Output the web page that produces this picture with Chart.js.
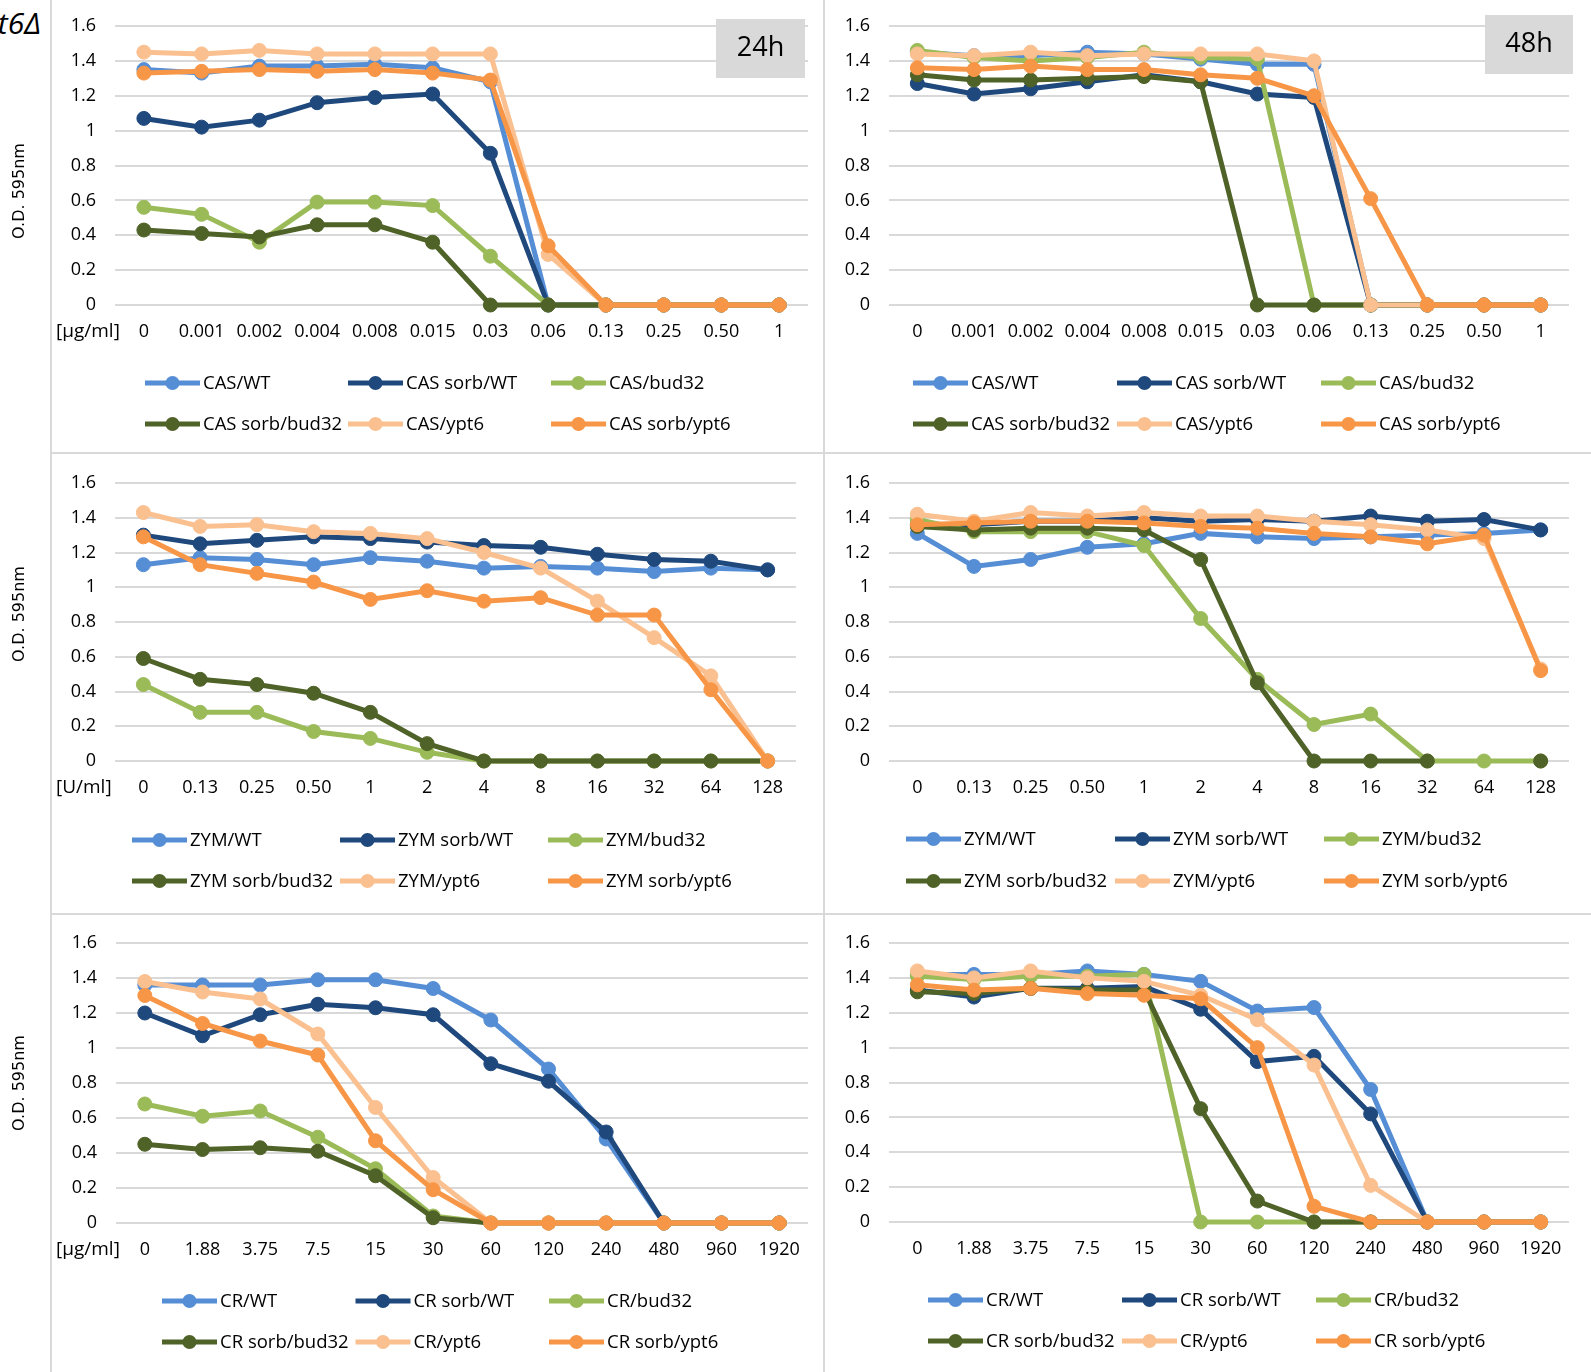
<!DOCTYPE html>
<html>
<head>
<meta charset="utf-8">
<script src="https://cdn.jsdelivr.net/npm/chart.js@4.4.1/dist/chart.umd.min.js"></script>
<style>
  body { margin: 0; background: #fff; width: 1591px; height: 1372px; position: relative; overflow: hidden; }
  canvas { position: absolute; }
  .rule { position: absolute; background: #d9d9d9; }
  .strain { position: absolute; left: -120px; top: 2px; width: 161px; text-align: right;
    font: italic 30px 'Open Sans', sans-serif; color: #000; white-space: nowrap; }
</style>
</head>
<body>
<div class="rule" style="left:50px;top:0;width:2px;height:1372px"></div>
<div class="rule" style="left:823px;top:0;width:2px;height:1372px"></div>
<div class="rule" style="left:51px;top:452px;width:1540px;height:2px"></div>
<div class="rule" style="left:51px;top:913px;width:1540px;height:2px"></div>
<div class="strain">ypt6Δ</div>
<script>
// doses (x categories)
const casDoses = ['0', '0.001', '0.002', '0.004', '0.008', '0.015', '0.03', '0.06', '0.13', '0.25', '0.50', '1'];
const zymDoses = ['0', '0.13', '0.25', '0.50', '1', '2', '4', '8', '16', '32', '64', '128'];
const crDoses = ['0', '1.88', '3.75', '7.5', '15', '30', '60', '120', '240', '480', '960', '1920'];

const strains = ['WT', 'sorb/WT', 'bud32', 'sorb/bud32', 'ypt6', 'sorb/ypt6'];
const yTicks = [0, 0.2, 0.4, 0.6, 0.8, 1, 1.2, 1.4, 1.6];

// CAS 24h
const cas24WT = [1.35, 1.33, 1.37, 1.37, 1.38, 1.36, 1.28, 0, 0, 0, 0, 0];
const cas24SorbWT = [1.07, 1.02, 1.06, 1.16, 1.19, 1.21, 0.87, 0, 0, 0, 0, 0];
const cas24Bud32 = [0.56, 0.52, 0.36, 0.59, 0.59, 0.57, 0.28, 0, 0, 0, 0, 0];
const cas24SorbBud32 = [0.43, 0.41, 0.39, 0.46, 0.46, 0.36, 0, 0, 0, 0, 0, 0];
const cas24Ypt6 = [1.45, 1.44, 1.46, 1.44, 1.44, 1.44, 1.44, 0.29, 0, 0, 0, 0];
const cas24SorbYpt6 = [1.33, 1.34, 1.35, 1.34, 1.35, 1.33, 1.29, 0.34, 0, 0, 0, 0];

// CAS 48h
const cas48WT = [1.45, 1.43, 1.43, 1.45, 1.44, 1.41, 1.38, 1.38, 0, 0, 0, 0];
const cas48SorbWT = [1.27, 1.21, 1.24, 1.28, 1.32, 1.28, 1.21, 1.19, 0, 0, 0, 0];
const cas48Bud32 = [1.46, 1.42, 1.40, 1.42, 1.45, 1.42, 1.41, 0, 0, 0, 0, 0];
const cas48SorbBud32 = [1.32, 1.29, 1.29, 1.30, 1.31, 1.28, 0, 0, 0, 0, 0, 0];
const cas48Ypt6 = [1.44, 1.43, 1.45, 1.43, 1.44, 1.44, 1.44, 1.40, 0, 0, 0, 0];
const cas48SorbYpt6 = [1.36, 1.35, 1.37, 1.35, 1.35, 1.32, 1.30, 1.20, 0.61, 0, 0, 0];

// ZYM 24h
const zym24WT = [1.13, 1.17, 1.16, 1.13, 1.17, 1.15, 1.11, 1.12, 1.11, 1.09, 1.11, 1.10];
const zym24SorbWT = [1.30, 1.25, 1.27, 1.29, 1.28, 1.26, 1.24, 1.23, 1.19, 1.16, 1.15, 1.10];
const zym24Bud32 = [0.44, 0.28, 0.28, 0.17, 0.13, 0.05, 0, 0, 0, 0, 0, 0];
const zym24SorbBud32 = [0.59, 0.47, 0.44, 0.39, 0.28, 0.10, 0, 0, 0, 0, 0, 0];
const zym24Ypt6 = [1.43, 1.35, 1.36, 1.32, 1.31, 1.28, 1.20, 1.11, 0.92, 0.71, 0.49, 0];
const zym24SorbYpt6 = [1.29, 1.13, 1.08, 1.03, 0.93, 0.98, 0.92, 0.94, 0.84, 0.84, 0.41, 0];

// ZYM 48h
const zym48WT = [1.31, 1.12, 1.16, 1.23, 1.25, 1.31, 1.29, 1.28, 1.29, 1.30, 1.31, 1.33];
const zym48SorbWT = [1.36, 1.36, 1.38, 1.38, 1.40, 1.38, 1.39, 1.38, 1.41, 1.38, 1.39, 1.33];
const zym48Bud32 = [1.39, 1.32, 1.32, 1.32, 1.24, 0.82, 0.47, 0.21, 0.27, 0, 0, 0];
const zym48SorbBud32 = [1.35, 1.33, 1.34, 1.34, 1.33, 1.16, 0.45, 0, 0, 0, null, 0];
const zym48Ypt6 = [1.42, 1.38, 1.43, 1.41, 1.43, 1.41, 1.41, 1.38, 1.36, 1.33, 1.28, 0.53];
const zym48SorbYpt6 = [1.36, 1.37, 1.38, 1.38, 1.37, 1.35, 1.34, 1.31, 1.29, 1.25, 1.30, 0.52];

// CR 24h
const cr24WT = [1.36, 1.36, 1.36, 1.39, 1.39, 1.34, 1.16, 0.88, 0.48, 0, 0, 0];
const cr24SorbWT = [1.20, 1.07, 1.19, 1.25, 1.23, 1.19, 0.91, 0.81, 0.52, 0, 0, 0];
const cr24Bud32 = [0.68, 0.61, 0.64, 0.49, 0.31, 0.04, 0, 0, 0, 0, 0, 0];
const cr24SorbBud32 = [0.45, 0.42, 0.43, 0.41, 0.27, 0.03, 0, 0, 0, 0, 0, 0];
const cr24Ypt6 = [1.38, 1.32, 1.28, 1.08, 0.66, 0.26, 0, 0, 0, 0, 0, 0];
const cr24SorbYpt6 = [1.30, 1.14, 1.04, 0.96, 0.47, 0.19, 0, 0, 0, 0, 0, 0];

// CR 48h
const cr48WT = [1.42, 1.42, 1.42, 1.44, 1.42, 1.38, 1.21, 1.23, 0.76, 0, 0, 0];
const cr48SorbWT = [1.33, 1.29, 1.34, 1.34, 1.35, 1.22, 0.92, 0.95, 0.62, 0, 0, 0];
const cr48Bud32 = [1.41, 1.39, 1.41, 1.41, 1.42, 0, 0, 0, 0, 0, 0, 0];
const cr48SorbBud32 = [1.32, 1.31, 1.34, 1.33, 1.33, 0.65, 0.12, 0, 0, 0, 0, 0];
const cr48Ypt6 = [1.44, 1.40, 1.44, 1.40, 1.38, 1.30, 1.16, 0.90, 0.21, 0, 0, 0];
const cr48SorbYpt6 = [1.36, 1.33, 1.34, 1.31, 1.30, 1.28, 1.00, 0.09, 0, 0, 0, 0];

const colors = ['#558ed5', '#1f497d', '#9bbb59', '#4f6228', '#fac090', '#f79646'];
const FONT = "'Open Sans', sans-serif";

Chart.defaults.font.family = FONT;
Chart.defaults.font.size = 18;
Chart.defaults.color = '#000';

// extra texts drawn on the canvas: unit label, axis title, time box, legend
const extras = {
  id: 'extras',
  afterDraw(chart, args, o) {
    const ctx = chart.ctx;
    ctx.save();
    ctx.textBaseline = 'middle';
    if (o.unit) {
      ctx.font = `19px ${FONT}`;
      ctx.fillStyle = '#000';
      ctx.textAlign = 'left';
      ctx.fillText(o.unit, o.unitX - o.ox, o.unitY - o.oy);
    }
    if (o.yTitle) {
      ctx.save();
      ctx.translate(20 - o.ox, o.yTitleY - o.oy);
      ctx.rotate(-Math.PI / 2);
      ctx.font = `16px 'DejaVu Sans', sans-serif`;
      ctx.textAlign = 'center';
      ctx.fillStyle = '#000';
      ctx.fillText(o.yTitle, 0, 0);
      ctx.restore();
    }
    if (o.box) {
      const b = o.box;
      ctx.fillStyle = '#d9d9d9';
      ctx.fillRect(b.x - o.ox, b.y - o.oy, b.w, b.h);
      ctx.fillStyle = '#000';
      ctx.font = `27px ${FONT}`;
      ctx.textAlign = 'center';
      ctx.fillText(b.text, b.x - o.ox + b.w / 2, b.y - o.oy + b.h / 2);
    }
    const lg = o.legend;
    ctx.font = `18.5px ${FONT}`;
    ctx.textAlign = 'left';
    chart.data.datasets.forEach((ds, i) => {
      const x = lg.x - o.ox + (i % 3) * lg.colW;
      const y = lg.y - o.oy + Math.floor(i / 3) * lg.rowH;
      ctx.strokeStyle = ds.borderColor;
      ctx.lineWidth = 5;
      ctx.beginPath();
      ctx.moveTo(x, y);
      ctx.lineTo(x + 55, y);
      ctx.stroke();
      ctx.fillStyle = ds.borderColor;
      ctx.beginPath();
      ctx.arc(x + 27.5, y, 7, 0, Math.PI * 2);
      ctx.fill();
      ctx.fillStyle = '#000';
      ctx.fillText(ds.label, x + 58, y + 1);
    });
    ctx.restore();
  },
};

function drawPanel(p) {
  const canvas = document.createElement('canvas');
  canvas.width = p.cw;
  canvas.height = p.ch;
  canvas.style.left = p.cx + 'px';
  canvas.style.top = p.cy + 'px';
  canvas.style.width = p.cw + 'px';
  canvas.style.height = p.ch + 'px';
  document.body.appendChild(canvas);

  const [pl, pt, pr, pb] = p.plot;
  const xAxisH = 40;

  return new Chart(canvas.getContext('2d'), {
    type: 'line',
    data: {
      labels: p.doses,
      datasets: p.series.map((values, i) => ({
        label: `${p.drug}${strains[i].startsWith('sorb') ? ' ' : '/'}${strains[i]}`,
        data: values,
        borderColor: colors[i],
        backgroundColor: colors[i],
        borderWidth: 5,
        pointRadius: 7,
        pointBorderWidth: 1,
        pointBackgroundColor: colors[i],
        pointBorderColor: colors[i],
        tension: 0,
        spanGaps: false,
        clip: false,
        order: p.series.length - i,
      })),
    },
    options: {
      responsive: false,
      animation: false,
      events: [],
      layout: {
        padding: {
          left: 0,
          top: pt - p.cy,
          right: p.cx + p.cw - pr,
          bottom: p.cy + p.ch - pb - xAxisH,
        },
      },
      scales: {
        x: {
          offset: true,
          grid: { display: false, drawTicks: false },
          border: { display: false },
          ticks: { padding: 16, maxRotation: 0, autoSkip: false },
          afterFit(scale) {
            scale.height = xAxisH;
            scale.paddingLeft = 0;
            scale.paddingRight = 0;
          },
        },
        y: {
          min: 0,
          max: 1.6,
          afterBuildTicks(scale) { scale.ticks = yTicks.map((v) => ({ value: v })); },
          grid: { color: '#d9d9d9', lineWidth: 2, drawTicks: false },
          border: { display: false },
          ticks: { padding: 19, callback: (v) => String(+v.toFixed(1)) },
          afterFit(scale) {
            scale.width = pl - p.cx;
            scale.paddingTop = 0;
            scale.paddingBottom = 0;
          },
        },
      },
      plugins: {
        legend: { display: false },
        tooltip: { enabled: false },
        extras: {
          ox: p.cx,
          oy: p.cy,
          unit: p.unit,
          unitX: 56,
          unitY: pb + 27,
          yTitle: p.yTitleY ? 'O.D. 595nm' : null,
          yTitleY: p.yTitleY,
          box: p.box,
          legend: p.legend,
        },
      },
    },
    plugins: [extras],
  });
}

const panels = [
  {
    drug: 'CAS', doses: casDoses, cx: 0, cy: 0, cw: 822, ch: 451, plot: [115, 26, 808, 305],
    series: [cas24WT, cas24SorbWT, cas24Bud32, cas24SorbBud32, cas24Ypt6, cas24SorbYpt6],
    unit: '[µg/ml]', yTitleY: 191,
    box: { x: 716, y: 19, w: 89, h: 59, text: '24h' },
    legend: { x: 145, y: 383, colW: 203, rowH: 41 },
  },
  {
    drug: 'CAS', doses: casDoses, cx: 826, cy: 0, cw: 765, ch: 451, plot: [889, 26, 1569, 305],
    series: [cas48WT, cas48SorbWT, cas48Bud32, cas48SorbBud32, cas48Ypt6, cas48SorbYpt6],
    box: { x: 1485, y: 15, w: 88, h: 59, text: '48h' },
    legend: { x: 913, y: 383, colW: 204, rowH: 41 },
  },
  {
    drug: 'ZYM', doses: zymDoses, cx: 0, cy: 455, cw: 822, ch: 457, plot: [115, 483, 796, 761],
    series: [zym24WT, zym24SorbWT, zym24Bud32, zym24SorbBud32, zym24Ypt6, zym24SorbYpt6],
    unit: '[U/ml]', yTitleY: 614,
    legend: { x: 132, y: 840, colW: 208, rowH: 41 },
  },
  {
    drug: 'ZYM', doses: zymDoses, cx: 826, cy: 455, cw: 765, ch: 457, plot: [889, 483, 1569, 761],
    series: [zym48WT, zym48SorbWT, zym48Bud32, zym48SorbBud32, zym48Ypt6, zym48SorbYpt6],
    legend: { x: 906, y: 839, colW: 209, rowH: 42 },
  },
  {
    drug: 'CR', doses: crDoses, cx: 0, cy: 916, cw: 822, ch: 456, plot: [116, 943, 808, 1223],
    series: [cr24WT, cr24SorbWT, cr24Bud32, cr24SorbBud32, cr24Ypt6, cr24SorbYpt6],
    unit: '[µg/ml]', yTitleY: 1083,
    legend: { x: 162, y: 1301, colW: 193.5, rowH: 41 },
  },
  {
    drug: 'CR', doses: crDoses, cx: 826, cy: 916, cw: 765, ch: 456, plot: [889, 943, 1569, 1222],
    series: [cr48WT, cr48SorbWT, cr48Bud32, cr48SorbBud32, cr48Ypt6, cr48SorbYpt6],
    legend: { x: 928, y: 1300, colW: 194, rowH: 41 },
  },
];

panels.forEach(drawPanel);
</script>
</body>
</html>
